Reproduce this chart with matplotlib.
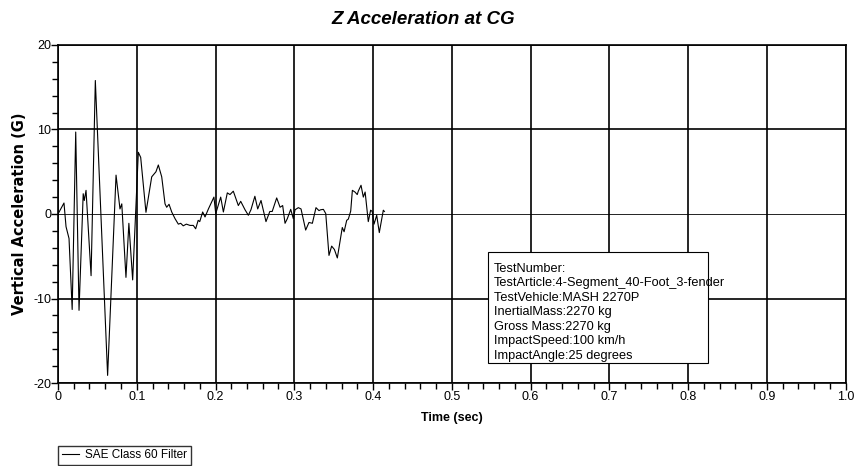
import matplotlib
matplotlib.use("Agg")
import matplotlib.pyplot as plt
from matplotlib.patches import Rectangle
from matplotlib.ticker import MultipleLocator

plt.rcParams['font.family'] = ['Liberation Sans Narrow', 'Liberation Sans', 'DejaVu Sans']
plt.rcParams['axes.unicode_minus'] = False

# Z acceleration trace (time in s, accel in G)
time_s = [0.0, 0.0076, 0.0102, 0.014, 0.018, 0.0225, 0.0267, 0.032, 0.0334, 0.0356,
          0.042, 0.0474, 0.063, 0.0737, 0.0787, 0.081, 0.0863, 0.090, 0.0948, 0.102,
          0.105, 0.1117, 0.119, 0.1244, 0.1274, 0.1317, 0.1359, 0.138, 0.141, 0.1444,
          0.1486, 0.1528, 0.1558, 0.159, 0.163, 0.1676, 0.1718, 0.1748, 0.178, 0.180,
          0.1837, 0.1867, 0.191, 0.198, 0.2003, 0.2066, 0.21, 0.215, 0.2184, 0.2226,
          0.229, 0.232, 0.2375, 0.2417, 0.245, 0.250, 0.2536, 0.2578, 0.2641, 0.269,
          0.272, 0.2777, 0.282, 0.2853, 0.2883, 0.2912, 0.2955, 0.2988, 0.301, 0.3052,
          0.3086, 0.3145, 0.3187, 0.323, 0.3276, 0.3314, 0.3335, 0.337, 0.340, 0.3441,
          0.3475, 0.351, 0.3547, 0.361, 0.3633, 0.3666, 0.3687, 0.3717, 0.3738, 0.3771,
          0.380, 0.3813, 0.3848, 0.3877, 0.390, 0.394, 0.397, 0.399, 0.4013, 0.4047,
          0.408, 0.4131, 0.4145]
accel_g = [0.0, 1.3, -1.5, -2.9, -11.3, 9.7, -11.4, 2.4, 1.6, 2.8,
           -7.3, 15.8, -19.1, 4.6, 0.6, 1.2, -7.5, -1.1, -7.8, 7.3,
           6.7, 0.2, 4.4, 5.0, 5.8, 4.4, 1.2, 0.8, 1.15, 0.24,
           -0.55, -1.2, -1.1, -1.4, -1.2, -1.35, -1.35, -1.75, -0.75, -0.9,
           0.24, -0.35, 0.6, 2.0, 0.05, 2.0, 0.24, 2.5, 2.3, 2.7,
           1.0, 1.5, 0.5, -0.15, 0.5, 2.1, 0.6, 1.6, -0.9, 0.3,
           0.3, 1.9, 0.8, 1.0, -1.1, -0.55, 0.55, -0.55, 0.5, 0.75,
           0.6, -1.9, -1.0, -1.1, 0.75, 0.4, 0.5, 0.55, 0.05, -4.9,
           -3.8, -4.2, -5.2, -1.6, -2.1, -0.75, -0.6, 0.35, 2.8, 2.6,
           2.3, 2.7, 3.4, 2.0, 2.6, -0.9, 0.45, 0.3, -1.2, -0.15,
           -2.2, 0.45, 0.3]

x_ticks = [0.0, 0.1, 0.2, 0.3, 0.4, 0.5, 0.6, 0.7, 0.8, 0.9, 1.0]
x_tick_labels = ['0', '0.1', '0.2', '0.3', '0.4', '0.5', '0.6', '0.7', '0.8', '0.9', '1.0']
y_ticks = [-20, -10, 0, 10, 20]

info_lines = [
    "TestNumber:",
    "TestArticle:4-Segment_40-Foot_3-fender",
    "TestVehicle:MASH 2270P",
    "InertialMass:2270 kg",
    "Gross Mass:2270 kg",
    "ImpactSpeed:100 km/h",
    "ImpactAngle:25 degrees",
]

fig = plt.figure(figsize=(8.56, 4.66), dpi=100)
ax = fig.add_axes([58 / 856, 1 - 383 / 466, 787.5 / 856, 338 / 466])

line, = ax.plot(time_s, accel_g, color='black', lw=0.8, label='SAE Class 60 Filter', zorder=3)

ax.set_xlim(0, 1.0)
ax.set_ylim(-20, 20)
ax.set_xticks(x_ticks)
ax.set_xticklabels(x_tick_labels)
ax.set_yticks(y_ticks)
ax.xaxis.set_minor_locator(MultipleLocator(0.02))
ax.yaxis.set_minor_locator(MultipleLocator(2))
ax.tick_params(which='both', direction='out', color='black', labelsize=9, pad=1)
ax.tick_params(which='major', length=5, width=1)
ax.tick_params(which='minor', length=4, width=1)
ax.tick_params(axis='y', pad=0)

ax.grid(True, which='major', color='black', lw=1.2)
ax.set_axisbelow(True)
ax.yaxis.get_gridlines()[2].set_linewidth(0.6)
for s in ax.spines.values():
    s.set_linewidth(1.2)

ax.set_xlabel("Time (sec)", fontsize=9, fontweight='bold', labelpad=6)
ax.set_ylabel("Vertical Acceleration (G)", fontsize=10.5, fontweight='bold',
              family=['DejaVu Sans'])
ax.yaxis.set_label_coords(-0.039, 0.5)
fig.text(0.495, 1 - 19 / 466, "Z Acceleration at CG", ha='center', va='center',
         fontsize=13.5, fontweight='bold', fontstyle='italic')

# info box
ax.add_patch(Rectangle((0.546, -17.6), 0.2794, 13.07, facecolor='white',
                       edgecolor='black', lw=0.8, zorder=4))
ax.text(0.5535, -5.8, "\n".join(info_lines), ha='left', va='top', fontsize=9.2,
        linespacing=1.27, zorder=5)

fig.legend(handles=[line], loc='lower left', bbox_to_anchor=(57 / 856, 0.0),
           fontsize=8.5, frameon=True, fancybox=False, edgecolor='black',
           handlelength=1.5, handletextpad=0.5, borderpad=0.3, borderaxespad=0.1)

fig.savefig("out.png", dpi=100)
